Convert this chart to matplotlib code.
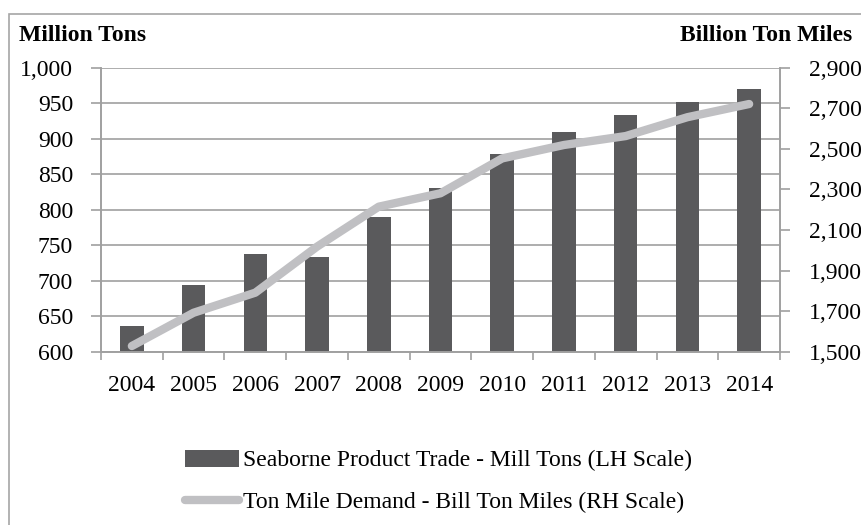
import matplotlib
matplotlib.use("Agg")
import matplotlib.pyplot as plt
from matplotlib.patches import Rectangle
from matplotlib.ticker import FuncFormatter, FixedLocator

years = ["2004", "2005", "2006", "2007", "2008", "2009", "2010", "2011", "2012", "2013", "2014"]
trade_mt = [636, 694, 737, 734, 790, 831, 878, 909, 934, 952, 970]
ton_miles = [1528, 1692, 1791, 2018, 2215, 2281, 2453, 2519, 2563, 2656, 2721]
left_ticks = [600, 650, 700, 750, 800, 850, 900, 950, 1000]
right_ticks = [1500, 1700, 1900, 2100, 2300, 2500, 2700, 2900]
bar_label = "Seaborne Product Trade - Mill Tons (LH Scale)"
line_label = "Ton Mile Demand - Bill Ton Miles (RH Scale)"

plt.rcParams['font.family'] = ['Liberation Serif', 'DejaVu Serif']
FS = 17
W, H = 861, 525
fig = plt.figure(figsize=(W / 100, H / 100), dpi=100)

# outer border
fig.patches.append(Rectangle((9 / W, -0.1), 1.2, 1 - 14 / H + 0.1, transform=fig.transFigure,
                             fill=False, edgecolor='#a6a6a6', linewidth=1.2))

x0, x1 = 101 / W, 780 / W
y0, y1 = 1 - 351.7 / H, 1 - 67.7 / H
ax = fig.add_axes([x0, y0, x1 - x0, y1 - y0])
ax2 = ax.twinx()

grey = '#a0a0a0'
xs = list(range(len(years)))
bars = ax.bar(xs, trade_mt, width=0.38, color='#5a5a5c', zorder=2, label=bar_label)
ax.set_ylim(600, 1000)
ax.set_xlim(-0.5, len(years) - 0.5)
ax.yaxis.set_major_locator(FixedLocator(left_ticks))
ax.yaxis.set_major_formatter(FuncFormatter(lambda v, p: f"{int(v):,}"))
ax.grid(axis='y', color=grey, linewidth=1.2, zorder=0)
ax.set_axisbelow(True)
ax.set_xticks(xs)
ax.set_xticklabels(years)
ax.set_xticks([i - 0.5 for i in range(len(years) + 1)], minor=True)
ax.tick_params(axis='x', which='major', length=0, pad=17, labelsize=FS)
ax.tick_params(axis='x', which='minor', length=6, color=grey, width=1.2)
ax.tick_params(axis='y', length=7, color=grey, width=1.2, pad=13, labelsize=FS)

line, = ax2.plot(xs, ton_miles, color='#c0c0c3', linewidth=6, solid_capstyle='round',
                 solid_joinstyle='round', zorder=3, label=line_label)
ax2.set_ylim(1500, 2900)
ax2.yaxis.set_major_locator(FixedLocator(right_ticks))
ax2.yaxis.set_major_formatter(FuncFormatter(lambda v, p: f"{int(v):,}"))
ax2.tick_params(axis='y', length=7, color=grey, width=1.2, pad=14, labelsize=FS)

for a in (ax, ax2):
    a.spines['top'].set_visible(False)
    for s in ('left', 'right', 'bottom'):
        a.spines[s].set_color(grey)
        a.spines[s].set_linewidth(1.2)

fig.text(19 / W, 1 - 41 / H, "Million Tons", fontsize=FS, fontweight='bold', ha='left', va='baseline')
fig.text(852 / W, 1 - 41 / H, "Billion Ton Miles", fontsize=FS, fontweight='bold', ha='right', va='baseline')

leg = fig.legend([bars, line], [bar_label, line_label], loc='upper left',
                 bbox_to_anchor=(185 / W, 1 - 450 / H), frameon=False, fontsize=FS,
                 handlelength=2.3, handletextpad=0.15, labelspacing=0.85, borderpad=0, borderaxespad=0)

fig.savefig("out.png", dpi=100)
